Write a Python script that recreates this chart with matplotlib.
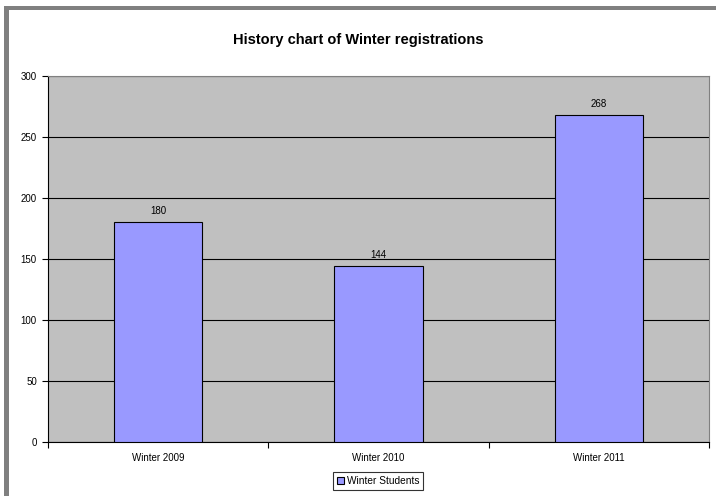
import matplotlib
matplotlib.use("Agg")
import matplotlib.pyplot as plt
from matplotlib.patches import Rectangle

# === DATA ===
categories = ["Winter 2009", "Winter 2010", "Winter 2011"]
students = [180, 144, 268]
series_name = "Winter Students"
y_ticks = [0, 50, 100, 150, 200, 250, 300]

plt.rcParams['font.family'] = ['Liberation Sans', 'DejaVu Sans']

fig = plt.figure(figsize=(7.16, 4.96), dpi=100)
fig.patch.set_facecolor("white")

# grey frame on left and top like the original sheet
fig.add_artist(Rectangle((4 / 716, 0), 5 / 716, 1 - 6 / 496, transform=fig.transFigure,
                         facecolor="#808080", edgecolor="none"))
fig.add_artist(Rectangle((4 / 716, 1 - 10 / 496), 1, 4 / 496, transform=fig.transFigure,
                         facecolor="#808080", edgecolor="none"))

ax = fig.add_axes([48 / 716, 54 / 496, 661 / 716, 366 / 496])
ax.set_facecolor("#C0C0C0")

xs = [i + 0.5 for i in range(len(categories))]
bars = ax.bar(xs, students, width=0.4, color="#9999FF", edgecolor="black",
              linewidth=0.8, label=series_name, zorder=3)
for x, v in zip(xs, students):
    ax.text(x, v + 5, str(v), ha="center", va="bottom", fontsize=7, zorder=4)

ax.set_xlim(0, len(categories))
ax.set_ylim(0, 300)
ax.set_yticks(y_ticks)
ax.yaxis.grid(True, color="black", linewidth=0.8, zorder=1)
ax.set_axisbelow(True)

ax.set_xticks(range(len(categories) + 1))
ax.set_xticklabels([])
ax.set_xticks(xs, minor=True)
ax.set_xticklabels(categories, minor=True)
ax.tick_params(axis="x", which="minor", length=0, pad=8, labelsize=7)
ax.tick_params(axis="x", which="major", length=4, direction="out")
ax.tick_params(axis="y", length=4, labelsize=7, pad=4)

for side in ["top", "right"]:
    ax.spines[side].set_color("#808080")
    ax.spines[side].set_linewidth(0.8)
ax.spines["left"].set_color("black")
ax.spines["bottom"].set_color("black")

fig.text(0.5, 1 - 40 / 496, "History chart of Winter registrations",
         ha="center", va="center", fontsize=10.5, fontweight="bold")

leg = fig.legend(handles=[bars], labels=[series_name], loc="center",
                 bbox_to_anchor=(378 / 716, 1 - 481 / 496), fontsize=7.3,
                 frameon=True, fancybox=False, shadow=False, handlelength=0.7,
                 handleheight=0.7, handletextpad=0.3, borderpad=0.35, borderaxespad=0)
leg.get_frame().set_edgecolor("black")
leg.get_frame().set_linewidth(0.8)

fig.savefig("out.png", dpi=100)
